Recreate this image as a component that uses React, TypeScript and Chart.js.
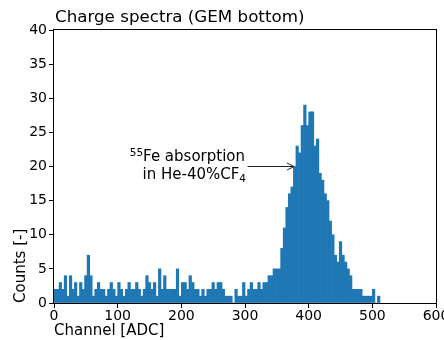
import React, { useEffect, useRef } from "react";
import { Chart, registerables } from "chart.js";

Chart.register(...registerables);

// Histogram: 4-channel bins starting at channel 0
const binWidth = 4;
const counts = [
  2, 2, 3, 2, 4, 1, 4, 2, 3, 1, 3, 2, 4, 7, 4, 1,
  2, 3, 2, 2, 1, 2, 3, 2, 1, 3, 2, 1, 2, 3, 2, 2,
  3, 2, 1, 2, 4, 3, 2, 3, 1, 5, 2, 4, 2, 2, 2, 2,
  5, 1, 3, 3, 2, 4, 3, 2, 2, 1, 2, 1, 2, 2, 3, 2,
  3, 3, 2, 1, 1, 1, 0, 2, 1, 1, 3, 1, 2, 3, 2, 2,
  3, 2, 3, 3, 4, 4, 5, 5, 5, 8, 11, 14, 16, 17, 20, 23,
  22, 26, 29, 26, 28, 28, 23, 24, 19, 18, 16, 15, 12, 10, 7, 6,
  9, 7, 6, 5, 4, 2, 2, 2, 2, 1, 1, 1, 1, 2, 0, 1,
];
const xTicks = [0, 100, 200, 300, 400, 500, 600];
const yTicks = [0, 5, 10, 15, 20, 25, 30, 35, 40];
const titleText = "Charge spectra (GEM bottom)";
const xLabel = "Channel [ADC]";
const yLabel = "Counts [-]";
const annotLine1Sup = "55";
const annotLine1 = "Fe absorption";
const annotLine2 = "in He-40%CF";
const annotLine2Sub = "4";
const arrowTip = { x: 377, y: 20 };
const arrowStart = { x: 304, y: 20 };
const textRight = 300;
const line1Y = 21.4;
const line2Y = 18.7;

const FONT = "'DejaVu Sans', sans-serif";

const decorPlugin = {
  id: "decor",
  afterDraw(chart: any) {
    const { ctx, chartArea, scales } = chart;
    const xs = scales.x;
    const ys = scales.y;
    ctx.save();
    // frame
    ctx.strokeStyle = "#000";
    ctx.lineWidth = 1;
    ctx.strokeRect(
      Math.round(chartArea.left) - 0.5,
      Math.round(chartArea.top) - 0.5,
      Math.round(chartArea.right - chartArea.left) + 1,
      Math.round(chartArea.bottom - chartArea.top) + 1
    );
    // title
    ctx.fillStyle = "#000";
    ctx.font = `16.7px ${FONT}`;
    ctx.textAlign = "left";
    ctx.textBaseline = "alphabetic";
    ctx.fillText(titleText, chartArea.left + 1, 22);

    // annotation text
    const xr = xs.getPixelForValue(textRight);
    const y1 = ys.getPixelForValue(line1Y);
    const y2 = ys.getPixelForValue(line2Y);
    ctx.textBaseline = "middle";
    ctx.textAlign = "right";
    ctx.font = `15px ${FONT}`;
    ctx.fillText(annotLine1, xr, y1);
    const w1 = ctx.measureText(annotLine1).width;
    ctx.font = `10.5px ${FONT}`;
    ctx.fillText(annotLine1Sup, xr - w1, y1 - 4);
    const wsub = ctx.measureText(annotLine2Sub).width;
    ctx.fillText(annotLine2Sub, xr + 1, y2 + 4);
    ctx.font = `15px ${FONT}`;
    ctx.fillText(annotLine2, xr + 1 - wsub, y2);

    // arrow
    const ax0 = xs.getPixelForValue(arrowStart.x);
    const ay0 = ys.getPixelForValue(arrowStart.y);
    const ax1 = xs.getPixelForValue(arrowTip.x);
    const ay1 = ys.getPixelForValue(arrowTip.y);
    ctx.strokeStyle = "#222";
    ctx.lineWidth = 1;
    ctx.beginPath();
    ctx.moveTo(ax0, ay0);
    ctx.lineTo(ax1, ay1);
    ctx.moveTo(ax1 - 7, ay1 - 3.5);
    ctx.lineTo(ax1, ay1);
    ctx.lineTo(ax1 - 7, ay1 + 3.5);
    ctx.stroke();
    ctx.restore();
  },
};

export default function App() {
  const ref = useRef<HTMLCanvasElement>(null);
  useEffect(() => {
    if (!ref.current) return;
    const data = counts.map((c, i) => ({ x: i * binWidth + binWidth / 2, y: c }));
    const chart = new Chart(ref.current, {
      type: "bar",
      data: {
        datasets: [
          {
            data,
            backgroundColor: "#1f77b4",
            borderWidth: 0,
            barPercentage: 1,
            categoryPercentage: 1,
          } as any,
        ],
      },
      options: {
        responsive: false,
        animation: false,
        devicePixelRatio: 1,
        layout: { padding: { top: 30, right: 8, left: 0, bottom: 0 } },
        plugins: {
          legend: { display: false },
          tooltip: { enabled: false },
          title: { display: false },
        },
        scales: {
          x: {
            type: "linear",
            min: 0,
            max: 600,
            offset: false,
            afterBuildTicks: (s: any) => {
              s.ticks = xTicks.map((v) => ({ value: v }));
            },
            afterFit: (s: any) => {
              s.height = 37;
              s.paddingLeft = 0;
              s.paddingRight = 0;
            },
            ticks: {
              color: "#000",
              font: { family: FONT, size: 14 },
              padding: 0,
              maxRotation: 0,
              autoSkip: false,
            },
            grid: {
              display: true,
              drawOnChartArea: false,
              drawTicks: true,
              tickLength: 5,
              color: "#000",
              offset: false,
            },
            border: { display: false },
            title: {
              display: true,
              text: xLabel,
              align: "start",
              color: "#000",
              font: { family: FONT, size: 15 },
              padding: { top: 0, bottom: 0 },
            },
          },
          y: {
            type: "linear",
            min: 0,
            max: 40,
            afterBuildTicks: (s: any) => {
              s.ticks = yTicks.map((v) => ({ value: v }));
            },
            afterFit: (s: any) => {
              s.width = 54;
              s.paddingTop = 0;
              s.paddingBottom = 0;
            },
            ticks: {
              color: "#000",
              font: { family: FONT, size: 14 },
              padding: 2,
            },
            grid: {
              display: true,
              drawOnChartArea: false,
              drawTicks: true,
              tickLength: 5,
              color: "#000",
            },
            border: { display: false },
            title: {
              display: true,
              text: yLabel,
              align: "start",
              color: "#000",
              font: { family: FONT, size: 15 },
              padding: { top: 12, bottom: 0 },
            },
          },
        },
      } as any,
      plugins: [decorPlugin],
    });
    return () => chart.destroy();
  }, []);
  return (
    <canvas
      ref={ref}
      width={444}
      height={340}
      style={{ position: "fixed", left: 0, top: 0, width: 444, height: 340 }}
    />
  );
}
